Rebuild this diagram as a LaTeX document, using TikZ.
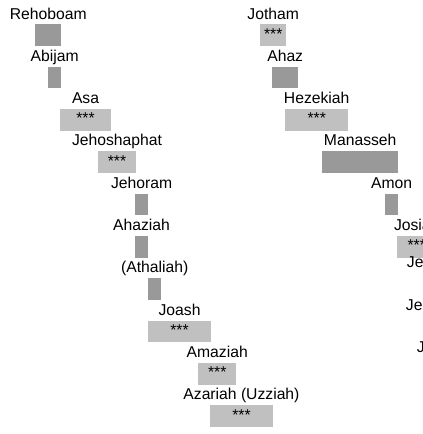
\documentclass[tikz,border=0pt]{standalone}
\usepackage{fontspec}
\setmainfont{Liberation Sans}
\usepackage{tikz}
\usetikzlibrary{positioning,calc}
\definecolor{cBad}{HTML}{999999}
\definecolor{cGood}{HTML}{C0C0C0}
\tikzset{
  reign/.style={rectangle,inner sep=0pt,minimum height=21.7pt,anchor=north west},
  badreign/.style={reign,fill=cBad},
  goodreign/.style={reign,fill=cGood},
  king/.style={inner sep=0pt,anchor=base,yshift=5pt,
              font=\fontsize{15.7}{18}\selectfont},
  stars/.style={inner sep=0pt,anchor=base,yshift=-15.3pt,
              font=\fontsize{15.7}{18}\selectfont},
}

\begin{document}
\begin{tikzpicture}[x=1pt,y=-1pt]
  \useasboundingbox (0,0) rectangle (423,434);
  \clip (0,0) rectangle (423,434);
  % rows: name / left edge / width / kind
  \foreach \n/\name/\x/\w/\k [count=\i from 0] in {
      L/Rehoboam/35/26/bad, L/Abijam/48/13/bad, L/Asa/60/50.7/good,
      L/Jehoshaphat/98/37.7/good, L/Jehoram/135/12.7/bad,
      L/Ahaziah/135/12.7/bad, L/(Athaliah)/148/13/bad,
      L/Joash/148/62.7/good, L/Amaziah/198/38/good,
      L/Azariah (Uzziah)/210/62.5/good}{
    \node[\k reign,minimum width=\w pt] (l\i) at (\x,{24+42.33*\i}) {};
    \node[king] (ln\i) at (l\i.north) {\name};
    \ifnum\pdfstrcmp{\k}{good}=0
      \node[stars] (ls\i) at (l\i.north) {***};
    \fi
  }
  \foreach \name/\x/\w/\k [count=\i from 0] in {
      Jotham/260/26/good, Ahaz/272/26/bad, Hezekiah/285/63/good,
      Manasseh/322/76/bad, Amon/385/13/bad, Josiah/397/39/good}{
    \node[\k reign,minimum width=\w pt] (r\i) at (\x,{24+42.33*\i}) {};
    \node[king] (rn\i) at (r\i.north) {\name};
    \ifnum\pdfstrcmp{\k}{good}=0
      \node[stars] (rs\i) at (r\i.north) {***};
    \fi
  }
  % labels running off the right edge
  \foreach \name/\x [count=\i from 6] in {
      Jehoahaz/406.7, Jehoiakim/405.7, Jehoiachin/416.7}{
    \node[king,anchor=base west,yshift=0pt] (rn\i) at (\x,{24+42.33*\i-5}) {\name};
  }
\end{tikzpicture}
\end{document}
